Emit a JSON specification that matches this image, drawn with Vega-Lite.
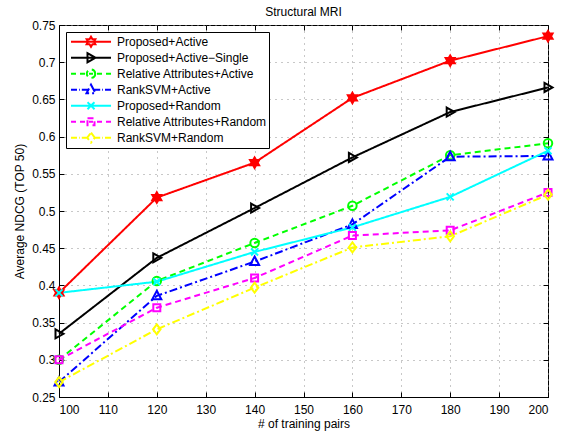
{
  "$schema": "https://vega.github.io/schema/vega-lite/v6.json",
  "width": 489,
  "height": 372,
  "autosize": {"type": "none"},
  "padding": {"left": 59, "top": 25, "right": 21, "bottom": 39},
  "background": "white",
  "title": {"text": "Structural MRI", "fontSize": 12, "font": "Liberation Sans", "fontWeight": "normal", "offset": 0, "anchor": "middle", "color": "black"},
  "config": {
    "view": {"stroke": "black", "strokeWidth": 1},
    "axis": {"labelFont": "Liberation Sans", "labelFontSize": 12, "labelColor": "black", "titleFont": "Liberation Sans", "titleFontSize": 12, "titleFontWeight": "normal", "titleColor": "black", "domainColor": "black", "tickColor": "black", "gridColor": "#909090", "gridDash": [1, 5], "gridOpacity": 1},
    "legend": {"orient": "top-left", "offset": 7, "padding": 2, "strokeColor": "black", "fillColor": "white", "symbolSize": 1600, "symbolStrokeWidth": 2, "symbolOffset": 2, "labelOffset": 5, "labelFont": "Liberation Sans", "labelFontSize": 12, "labelColor": "black", "clipHeight": 15.4, "rowPadding": 0},
    "point": {"filled": false, "strokeWidth": 2, "size": 100, "opacity": 1}
  },
  "data": {"values": [
    {"series": "Proposed+Active", "pairs": 100, "ndcg": 0.39},
    {"series": "Proposed+Active", "pairs": 120, "ndcg": 0.518},
    {"series": "Proposed+Active", "pairs": 140, "ndcg": 0.565},
    {"series": "Proposed+Active", "pairs": 160, "ndcg": 0.652},
    {"series": "Proposed+Active", "pairs": 180, "ndcg": 0.702},
    {"series": "Proposed+Active", "pairs": 200, "ndcg": 0.735},
    {"series": "Proposed+Active−Single", "pairs": 100, "ndcg": 0.335},
    {"series": "Proposed+Active−Single", "pairs": 120, "ndcg": 0.437},
    {"series": "Proposed+Active−Single", "pairs": 140, "ndcg": 0.504},
    {"series": "Proposed+Active−Single", "pairs": 160, "ndcg": 0.572},
    {"series": "Proposed+Active−Single", "pairs": 180, "ndcg": 0.633},
    {"series": "Proposed+Active−Single", "pairs": 200, "ndcg": 0.666},
    {"series": "Relative Attributes+Active", "pairs": 100, "ndcg": 0.30},
    {"series": "Relative Attributes+Active", "pairs": 120, "ndcg": 0.406},
    {"series": "Relative Attributes+Active", "pairs": 140, "ndcg": 0.457},
    {"series": "Relative Attributes+Active", "pairs": 160, "ndcg": 0.507},
    {"series": "Relative Attributes+Active", "pairs": 180, "ndcg": 0.575},
    {"series": "Relative Attributes+Active", "pairs": 200, "ndcg": 0.591},
    {"series": "RankSVM+Active", "pairs": 100, "ndcg": 0.27},
    {"series": "RankSVM+Active", "pairs": 120, "ndcg": 0.386},
    {"series": "RankSVM+Active", "pairs": 140, "ndcg": 0.432},
    {"series": "RankSVM+Active", "pairs": 160, "ndcg": 0.482},
    {"series": "RankSVM+Active", "pairs": 180, "ndcg": 0.573},
    {"series": "RankSVM+Active", "pairs": 200, "ndcg": 0.574},
    {"series": "Proposed+Random", "pairs": 100, "ndcg": 0.39},
    {"series": "Proposed+Random", "pairs": 120, "ndcg": 0.405},
    {"series": "Proposed+Random", "pairs": 140, "ndcg": 0.445},
    {"series": "Proposed+Random", "pairs": 160, "ndcg": 0.478},
    {"series": "Proposed+Random", "pairs": 180, "ndcg": 0.519},
    {"series": "Proposed+Random", "pairs": 200, "ndcg": 0.581},
    {"series": "Relative Attributes+Random", "pairs": 100, "ndcg": 0.30},
    {"series": "Relative Attributes+Random", "pairs": 120, "ndcg": 0.370},
    {"series": "Relative Attributes+Random", "pairs": 140, "ndcg": 0.410},
    {"series": "Relative Attributes+Random", "pairs": 160, "ndcg": 0.467},
    {"series": "Relative Attributes+Random", "pairs": 180, "ndcg": 0.474},
    {"series": "Relative Attributes+Random", "pairs": 200, "ndcg": 0.525},
    {"series": "RankSVM+Random", "pairs": 100, "ndcg": 0.27},
    {"series": "RankSVM+Random", "pairs": 120, "ndcg": 0.341},
    {"series": "RankSVM+Random", "pairs": 140, "ndcg": 0.397},
    {"series": "RankSVM+Random", "pairs": 160, "ndcg": 0.451},
    {"series": "RankSVM+Random", "pairs": 180, "ndcg": 0.466},
    {"series": "RankSVM+Random", "pairs": 200, "ndcg": 0.522}
  ]},
  "resolve": {"axis": {"x": "independent", "y": "independent"}},
  "layer": [
    {
      "mark": {"type": "line", "strokeWidth": 2},
      "encoding": {
        "x": {"field": "pairs", "type": "quantitative", "scale": {"domain": [100, 200], "nice": false, "zero": false},
              "axis": {"orient": "bottom", "values": [100, 110, 120, 130, 140, 150, 160, 170, 180, 190, 200], "title": "# of training pairs", "grid": true, "tickSize": -5, "labelPadding": 12, "titlePadding": 3}},
        "y": {"field": "ndcg", "type": "quantitative", "scale": {"domain": [0.25, 0.75], "nice": false, "zero": false},
              "axis": {"orient": "left", "values": [0.25, 0.3, 0.35, 0.4, 0.45, 0.5, 0.55, 0.6, 0.65, 0.7, 0.75], "format": ".2~f", "title": "Average NDCG (TOP 50)", "grid": true, "tickSize": -5, "labelPadding": 9, "titlePadding": 5}},
        "color": {"field": "series", "type": "nominal", "legend": {"title": null},
                  "scale": {"domain": ["Proposed+Active", "Proposed+Active−Single", "Relative Attributes+Active", "RankSVM+Active", "Proposed+Random", "Relative Attributes+Random", "RankSVM+Random"],
                            "range": ["#ff0000", "#000000", "#00ff00", "#0000ff", "#00ffff", "#ff00ff", "#ffff00"]}},
        "strokeDash": {"field": "series", "type": "nominal", "legend": null,
                  "scale": {"domain": ["Proposed+Active", "Proposed+Active−Single", "Relative Attributes+Active", "RankSVM+Active", "Proposed+Random", "Relative Attributes+Random", "RankSVM+Random"],
                            "range": [[1, 0], [1, 0], [6, 4], [8, 3, 2, 3], [1, 0], [6, 4], [8, 3, 2, 3]]}}
      }
    },
    {
      "transform": [{"filter": "datum.series === 'Proposed+Active'"}],
      "mark": {"type": "point", "filled": true, "color": "#ff0000", "shape": "M0,-1L0.289,-0.5L0.866,-0.5L0.577,0L0.866,0.5L0.289,0.5L0,1L-0.289,0.5L-0.866,0.5L-0.577,0L-0.866,-0.5L-0.289,-0.5Z", "stroke": "#ff0000", "size": 110},
      "encoding": {"x": {"field": "pairs", "type": "quantitative", "axis": null}, "y": {"field": "ndcg", "type": "quantitative", "axis": null}}
    },
    {
      "transform": [{"filter": "datum.series === 'Proposed+Active−Single'"}],
      "mark": {"type": "point", "shape": "M-0.7,-0.9L0.9,0L-0.7,0.9Z"},
      "encoding": {"x": {"field": "pairs", "type": "quantitative", "axis": null}, "y": {"field": "ndcg", "type": "quantitative", "axis": null}, "color": {"field": "series", "type": "nominal", "legend": {"title": null}}}
    },
    {
      "transform": [{"filter": "datum.series === 'Relative Attributes+Active'"}],
      "mark": {"type": "point", "shape": "M0.85,0A0.85,0.85,0,1,1,-0.85,0A0.85,0.85,0,1,1,0.85,0Z"},
      "encoding": {"x": {"field": "pairs", "type": "quantitative", "axis": null}, "y": {"field": "ndcg", "type": "quantitative", "axis": null}, "color": {"field": "series", "type": "nominal", "legend": {"title": null}}}
    },
    {
      "transform": [{"filter": "datum.series === 'RankSVM+Active'"}],
      "mark": {"type": "point", "shape": "M0,-1L0.9,0.7L-0.9,0.7Z"},
      "encoding": {"x": {"field": "pairs", "type": "quantitative", "axis": null}, "y": {"field": "ndcg", "type": "quantitative", "axis": null}, "color": {"field": "series", "type": "nominal", "legend": {"title": null}}}
    },
    {
      "transform": [{"filter": "datum.series === 'Proposed+Random'"}],
      "mark": {"type": "point", "shape": "M-0.7,-0.7L0.7,0.7M-0.7,0.7L0.7,-0.7"},
      "encoding": {"x": {"field": "pairs", "type": "quantitative", "axis": null}, "y": {"field": "ndcg", "type": "quantitative", "axis": null}, "color": {"field": "series", "type": "nominal", "legend": {"title": null}}}
    },
    {
      "transform": [{"filter": "datum.series === 'Relative Attributes+Random'"}],
      "mark": {"type": "point", "shape": "M-0.7,-0.7H0.7V0.7H-0.7Z"},
      "encoding": {"x": {"field": "pairs", "type": "quantitative", "axis": null}, "y": {"field": "ndcg", "type": "quantitative", "axis": null}, "color": {"field": "series", "type": "nominal", "legend": {"title": null}}}
    },
    {
      "transform": [{"filter": "datum.series === 'RankSVM+Random'"}],
      "mark": {"type": "point", "shape": "M0,-1L0.75,0L0,1L-0.75,0Z"},
      "encoding": {"x": {"field": "pairs", "type": "quantitative", "axis": null}, "y": {"field": "ndcg", "type": "quantitative", "axis": null}, "color": {"field": "series", "type": "nominal", "legend": {"title": null}}}
    },
    {
      "transform": [{"filter": "false"}],
      "mark": {"type": "point"},
      "encoding": {
        "x": {"field": "pairs", "type": "quantitative", "axis": {"orient": "top", "values": [100, 110, 120, 130, 140, 150, 160, 170, 180, 190, 200], "labels": false, "grid": false, "domain": false, "tickSize": -5, "title": null}},
        "y": {"field": "ndcg", "type": "quantitative", "axis": {"orient": "right", "values": [0.25, 0.3, 0.35, 0.4, 0.45, 0.5, 0.55, 0.6, 0.65, 0.7, 0.75], "labels": false, "grid": false, "domain": false, "tickSize": -5, "title": null}},
        "color": {"field": "series", "type": "nominal", "legend": {"title": null}},
        "shape": {"field": "series", "type": "nominal", "legend": {"title": null},
                  "scale": {"domain": ["Proposed+Active", "Proposed+Active−Single", "Relative Attributes+Active", "RankSVM+Active", "Proposed+Random", "Relative Attributes+Random", "RankSVM+Random"],
                            "range": [
                              "M-1,0H1M0,-0.25L0.072,-0.125L0.217,-0.125L0.144,0L0.217,0.125L0.072,0.125L0,0.25L-0.072,0.125L-0.217,0.125L-0.144,0L-0.217,-0.125L-0.072,-0.125Z",
                              "M-1,0H1M-0.175,-0.225L0.225,0L-0.175,0.225Z",
                              "M-1,0H-0.75M-0.55,0H-0.3M-0.1,0H0.1M0.3,0H0.55M0.75,0H1M0.21,0A0.21,0.21,0,1,1,-0.21,0A0.21,0.21,0,1,1,0.21,0Z",
                              "M-1,0H-0.7M-0.6,0H-0.56M-0.46,0H-0.16M0.16,0H0.46M0.56,0H0.6M0.7,0H1M0,-0.25L0.225,0.175L-0.225,0.175Z",
                              "M-1,0H1M-0.175,-0.175L0.175,0.175M-0.175,0.175L0.175,-0.175",
                              "M-1,0H-0.75M-0.55,0H-0.3M-0.1,0H0.1M0.3,0H0.55M0.75,0H1M-0.175,-0.175H0.175V0.175H-0.175Z",
                              "M-1,0H-0.7M-0.6,0H-0.56M-0.46,0H-0.16M0.16,0H0.46M0.56,0H0.6M0.7,0H1M0,-0.25L0.19,0L0,0.25L-0.19,0Z"
                            ]}}
      }
    }
  ]
}
